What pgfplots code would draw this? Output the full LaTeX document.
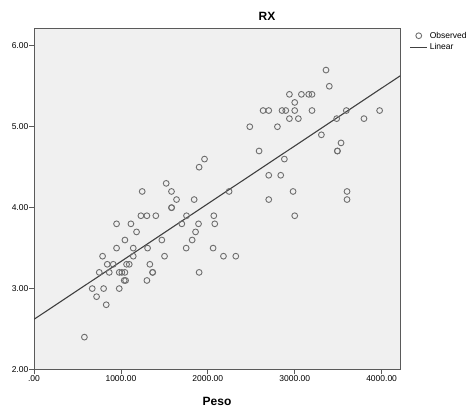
\documentclass[border=0pt]{standalone}
\usepackage{pgfplots}
\pgfplotsset{compat=1.18}
\usepackage{fontspec}
\setmainfont{Liberation Sans}
\definecolor{bg}{HTML}{F0F0F0}
\definecolor{mk}{HTML}{6E6E6E}
\definecolor{ln}{HTML}{404040}
\definecolor{ax}{HTML}{5A5A5A}
\begin{document}
\begin{tikzpicture}
\path[use as bounding box] (0,0) rectangle (471pt,411pt);
\begin{axis}[
 at={(34pt,41.5pt)}, anchor=south west,
 width=366.3pt, height=341.5pt, scale only axis,
 xmin=0, xmax=4215, ymin=2, ymax=6.22,
 axis background/.style={fill=bg},
 axis line style={draw=ax, line width=0.8pt},
 xtick={0,1000,2000,3000,4000},
 xticklabels={.00,1000.00,2000.00,3000.00,4000.00},
 ytick={2,3,4,5,6},
 yticklabels={2.00,3.00,4.00,5.00,6.00},
 tick align=outside, xtick pos=bottom, ytick pos=left,
 major tick length=5pt,
 tick style={ax, line width=0.8pt},
 tick label style={font=\fontsize{8.5}{10}\selectfont},
 xticklabel style={inner ysep=1pt},
 yticklabel style={inner xsep=0.5pt},
 /pgf/number format/assume math mode=true,
 legend style={at={(axis description cs:1.025,0.995)}, anchor=north west, draw=none, fill=none,
   font=\fontsize{8.5}{9}\selectfont, row sep=0pt, inner sep=0pt, cells={anchor=west}},
 legend cell align=left,
]
\addplot[only marks, mark=o, mark size=2.9pt, mark options={draw=mk, line width=0.9pt}] coordinates {
(580,2.4) (670,3.0) (720,2.9) (801,3.0) (831,2.8) (751,3.2) (789,3.4) (843,3.3) (866,3.2)
(912,3.3) (950,3.5) (950,3.8) (981,3.0) (981,3.2) (1011,3.2) (1046,3.2) (1038,3.1) (1054,3.1)
(1046,3.6) (1065,3.3) (1096,3.3) (1115,3.8) (1142,3.5) (1142,3.4) (1180,3.7) (1230,3.9)
(1299,3.9) (1245,4.2) (1299,3.1) (1307,3.5) (1333,3.3) (1364,3.2) (1366,3.2) (1402,3.9)
(1471,3.6) (1502,3.4) (1521,4.3) (1582,4.2) (1582,4.0) (1584,4.0) (1640,4.1) (1701,3.8)
(1755,3.9) (1751,3.5) (1820,3.6) (1843,4.1) (1859,3.7) (1893,3.8) (1900,3.2) (1900,4.5)
(1962,4.6) (2061,3.5) (2069,3.9) (2080,3.8) (2180,3.4) (2322,3.4) (2245,4.2) (2590,4.7)
(2881,4.6) (2701,4.4) (2839,4.4) (2981,4.2) (2701,4.1) (3000,3.9) (3307,4.9) (3533,4.8)
(3490,4.7) (3492,4.7) (3602,4.2) (3602,4.1) (3360,5.7) (3398,5.5) (2939,5.4) (3077,5.4)
(3161,5.4) (3199,5.4) (3000,5.3) (2636,5.2) (2701,5.2) (2854,5.2) (2897,5.2) (3000,5.2)
(3199,5.2) (3594,5.2) (3977,5.2) (2939,5.1) (3042,5.1) (3483,5.1) (3797,5.1) (2483,5.0)
(2801,5.0)
};
\addlegendentry{Observed}
\addplot[ln, line width=1.1pt, no marks] coordinates {(0,2.62) (4215,5.63)};
\addlegendentry{Linear}
\end{axis}
\node[font=\bfseries\fontsize{12}{14}\selectfont, inner sep=0pt] at (267pt,394.5pt) {RX};
\node[font=\bfseries\fontsize{12}{14}\selectfont, inner sep=0pt] at (217pt,9.5pt) {Peso};
\end{tikzpicture}
\end{document}
